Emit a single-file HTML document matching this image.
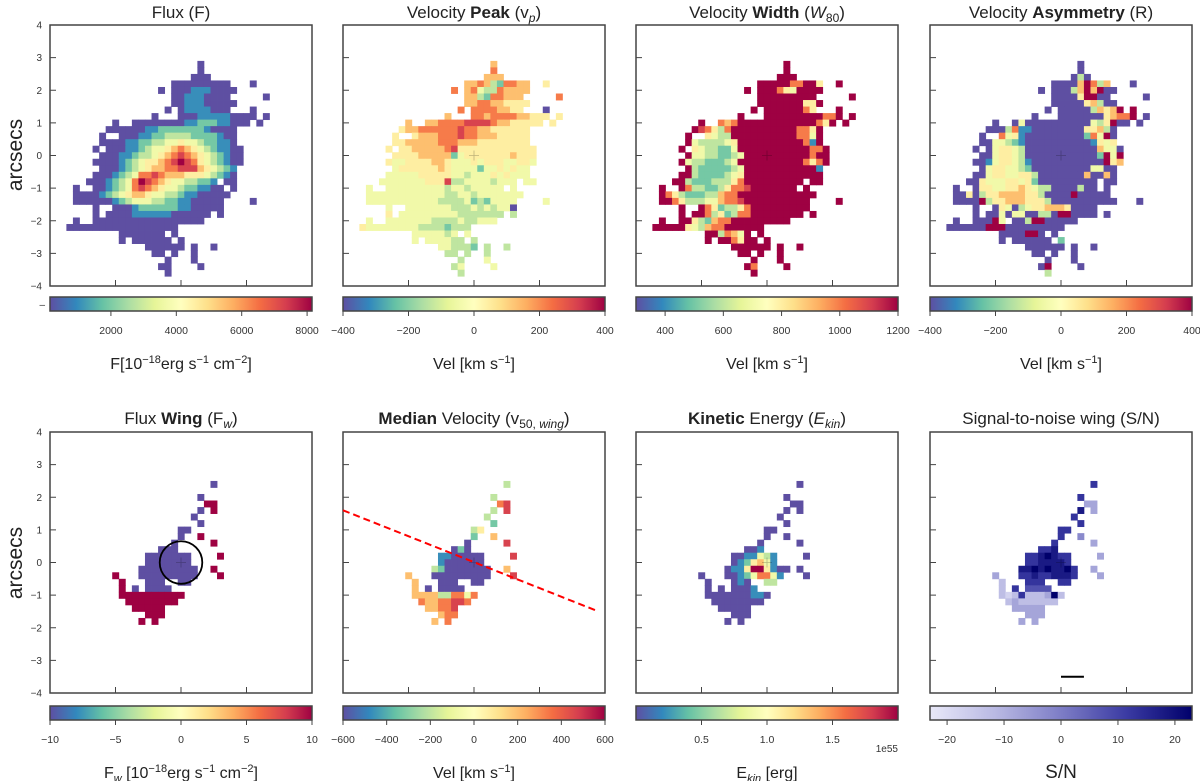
<!DOCTYPE html>
<html><head><meta charset="utf-8"><style>
html,body{margin:0;padding:0;background:#fff;}
svg{display:block;font-family:"Liberation Sans","DejaVu Sans",sans-serif;}
</style></head><body>
<svg id="fig" width="1200" height="781" viewBox="0 0 1200 781" xmlns="http://www.w3.org/2000/svg">
<defs id="defs"></defs>
<text transform="translate(22,155) rotate(-90)" text-anchor="middle" font-size="21" fill="#222">arcsecs</text>
<text transform="translate(22,563) rotate(-90)" text-anchor="middle" font-size="21" fill="#222">arcsecs</text>
<text x="181" y="18" text-anchor="middle" font-size="17" fill="#222">Flux (F)</text>
<text x="474" y="18" text-anchor="middle" font-size="17" fill="#222">Velocity <tspan font-weight="bold">Peak</tspan> (v<tspan font-style="italic" font-size="12" dy="4">p</tspan><tspan dy="-4">)</tspan></text>
<text x="767" y="18" text-anchor="middle" font-size="17" fill="#222">Velocity <tspan font-weight="bold">Width</tspan> (<tspan font-style="italic">W</tspan><tspan font-size="12" dy="4">80</tspan><tspan dy="-4">)</tspan></text>
<text x="1061" y="18" text-anchor="middle" font-size="17" fill="#222">Velocity <tspan font-weight="bold">Asymmetry</tspan> (R)</text>
<text x="181" y="424" text-anchor="middle" font-size="17" fill="#222">Flux <tspan font-weight="bold">Wing</tspan> (F<tspan font-style="italic" font-size="12" dy="4">w</tspan><tspan dy="-4">)</tspan></text>
<text x="474" y="424" text-anchor="middle" font-size="17" fill="#222"><tspan font-weight="bold">Median</tspan> Velocity (v<tspan font-size="12" dy="4">50, </tspan><tspan font-size="12" font-style="italic">wing</tspan><tspan dy="-4">)</tspan></text>
<text x="767" y="424" text-anchor="middle" font-size="17" fill="#222"><tspan font-weight="bold">Kinetic</tspan> Energy (<tspan font-style="italic">E</tspan><tspan font-style="italic" font-size="12" dy="4">kin</tspan><tspan dy="-4">)</tspan></text>
<text x="1061" y="424" text-anchor="middle" font-size="17" fill="#222">Signal-to-noise wing (S/N)</text>

<text x="181" y="369" text-anchor="middle" font-size="16" fill="#222">F[10<tspan font-size="11" dy="-6">−18</tspan><tspan dy="6">erg s</tspan><tspan font-size="11" dy="-6">−1</tspan><tspan dy="6"> cm</tspan><tspan font-size="11" dy="-6">−2</tspan><tspan dy="6">]</tspan></text>
<text x="474" y="369" text-anchor="middle" font-size="16" fill="#222">Vel [km s<tspan font-size="11" dy="-6">−1</tspan><tspan dy="6">]</tspan></text>
<text x="767" y="369" text-anchor="middle" font-size="16" fill="#222">Vel [km s<tspan font-size="11" dy="-6">−1</tspan><tspan dy="6">]</tspan></text>
<text x="1061" y="369" text-anchor="middle" font-size="16" fill="#222">Vel [km s<tspan font-size="11" dy="-6">−1</tspan><tspan dy="6">]</tspan></text>
<text x="181" y="778" text-anchor="middle" font-size="16" fill="#222">F<tspan font-style="italic" font-size="11" dy="4">w</tspan><tspan dy="-4"> [10</tspan><tspan font-size="11" dy="-6">−18</tspan><tspan dy="6">erg s</tspan><tspan font-size="11" dy="-6">−1</tspan><tspan dy="6"> cm</tspan><tspan font-size="11" dy="-6">−2</tspan><tspan dy="6">]</tspan></text>
<text x="474" y="778" text-anchor="middle" font-size="16" fill="#222">Vel [km s<tspan font-size="11" dy="-6">−1</tspan><tspan dy="6">]</tspan></text>
<text x="767" y="778" text-anchor="middle" font-size="16" fill="#222">E<tspan font-style="italic" font-size="11" dy="4">kin</tspan><tspan dy="-4"> [erg]</tspan></text>
<text x="1061" y="778" text-anchor="middle" font-size="19" fill="#222">S/N</text>
<text x="898" y="752" text-anchor="end" font-size="10" fill="#333">1e55</text>
<text x="45" y="308" text-anchor="end" font-size="10" fill="#333">–</text>
</svg>
<script>
// ---------- data ----------
var panelTitles = ["flux","velocity-peak","velocity-width","velocity-asymmetry","flux-wing","median-velocity","kinetic-energy","signal-to-noise"];
var cbarMin = [137, -400, 300, -400, -10, -600, 0, -23];
var cbarMax = [8150, 400, 1200, 400, 10, 600, 2.0, 23];
var cbarTicks = [[2000,4000,6000,8000],[-400,-200,0,200,400],[400,600,800,1000,1200],[-400,-200,0,200,400],[-10,-5,0,5,10],[-600,-400,-200,0,200,400,600],[0.5,1.0,1.5],[-20,-10,0,10,20]];
var cbarTickLabels = [["2000","4000","6000","8000"],["−400","−200","0","200","400"],["400","600","800","1000","1200"],["−400","−200","0","200","400"],["−10","−5","0","5","10"],["−600","−400","−200","0","200","400","600"],["0.5","1.0","1.5"],["−20","−10","0","10","20"]];
var yTicks = [4,3,2,1,0,-1,-2,-3,-4];
var yTickLabels = ["4","3","2","1","0","−1","−2","−3","−4"];
var xTicks = [-2,0,2];
// top maps: [y, xStart, digit string], digit d -> vmin + d/9*(vmax-vmin)
var fluxRows = [
[2.8,0.6,"0"],[2.6,0.6,"0"],[2.4,0.4,"000"],[2.2,-0.2,"000000000...0"],[2.0,-0.6,"0.0001110000"],
[1.8,-0.2,"001110000.....0"],[1.6,-0.2,"0011100000"],[1.4,-0.4,"0.01111000...0"],[1.2,-0.8,"0...000111110000.0"],
[1.0,-2.0,"0..000000001122211000.0"],[0.8,-2.2,"00000011222222210000"],[0.6,-2.4,"0..000112233332222100"],
[0.4,-2.4,"000011223344544322110"],[0.2,-2.6,"0.000112344567654321100"],[0.0,-2.4,"0001123345678765432100"],
[-0.2,-2.6,"00001234556789875432100"],[-0.4,-2.4,"000123456677888654321"],[-0.6,-2.6,"0001234778766655543210"],
[-0.8,-2.8,"00012347987654433221.00"],[-1.0,-3.2,"0..00123478765443221100.0"],[-1.2,-3.2,"000012345665443321100000"],
[-1.4,-3.2,"00000012344433221100000....0"],[-1.6,-2.6,"0..00012222221100000"],[-1.8,-2.6,"0.0000111111000000.0"],
[-2.0,-3.2,"0..00000000000000000"],[-2.2,-3.4,"00000000000000000"],[-2.4,-1.8,"0000000.0"],[-2.6,-1.8,"0.000000.0"],
[-2.8,-1.0,"000000.0..0"],[-3.0,-0.8,"00.0..0"],[-3.2,-0.4,"0...0"],[-3.4,-0.6,"00....0"],[-3.6,-0.4,"0"]];
var velPeakRows = [
[2.8,0.6,"6"],[2.6,0.6,"7"],[2.4,0.4,"666"],[2.2,-0.2,"6676327766..5"],[2.0,-0.6,"7.6743376666"],
[1.8,-0.2,"663277666.....7"],[1.6,-0.2,"6677665555"],[1.4,-0.4,"7.77776655...0"],[1.2,-0.8,"6...776777766555.5"],
[1.0,-2.0,"6..667777888876655555.5"],[0.8,-2.2,"56677777787766555555"],[0.6,-2.4,"5..566677787766655555"],
[0.4,-2.4,"556666677766655555555"],[0.2,-2.6,"5.556666678555555555555"],[0.0,-2.4,"5555666662455555556555"],
[-0.2,-2.6,"54455556654445455544554"],[-0.4,-2.4,"455555565444424454544"],[-0.6,-2.6,"4444455555443444545444"],
[-0.8,-2.8,"444444455583344443444.44"],[-1.0,-3.2,"4..444444444344344444.4"],[-1.2,-3.2,"444444444444334434444444"],
[-1.4,-3.2,"44444444444333342324444....4"],[-1.6,-2.6,"4..44444443334343440"],[-1.8,-2.6,"5.4444444443333333.3"],
[-2.0,-3.2,"4..44444443333433444"],[-2.2,-3.4,"54444444433332333"],[-2.4,-1.8,"4444434.4"],[-2.6,-1.8,"4.444433.3"],
[-2.8,-1.0,"443332.3..3"],[-3.0,-0.8,"33.3..3"],[-3.2,-0.4,"3...4"],[-3.4,-0.6,"34....4"],[-3.6,-0.4,"3"]];
var widthRows = [
[2.8,0.6,"9"],[2.6,0.6,"9"],[2.4,0.4,"999"],[2.2,-0.2,"9999977995..9"],[2.0,-0.6,"9.9997549999"],
[1.8,-0.2,"999999999.....9"],[1.6,-0.2,"9999999559"],[1.4,-0.4,"9.99999975...9"],[1.2,-0.8,"9...999999999779.9"],
[1.0,-2.0,"9..767999999999999759.9"],[0.8,-2.2,"98753799999999997759"],[0.6,-2.4,"9..543399999999997749"],
[0.4,-2.4,"943333459999999999719"],[0.2,-2.6,"9.543322499999999999779"],[0.0,-2.4,"9443322349999999999799"],
[-0.2,-2.6,"94332223499999999997579"],[-0.4,-2.4,"932222234999999999991"],[-0.6,-2.6,"9932222345999999999999"],
[-0.8,-2.8,"99322233357999999999.99"],[-1.0,-3.2,"9..973322357789999999.9"],[-1.2,-3.2,"975322233677999999999999"],
[-1.4,-3.2,"99753334467789999999999....9"],[-1.6,-2.6,"9..97523357999999999"],[-1.8,-2.6,"9.99735237799999999.9"],
[-2.0,-3.2,"9..99532677999999999"],[-2.2,-3.4,"99999543677999999"],[-2.4,-1.8,"9937649.9"],[-2.6,-1.8,"9.997599.9"],
[-2.8,-1.0,"999999.9..9"],[-3.0,-0.8,"99.9..9"],[-3.2,-0.4,"9...9"],[-3.4,-0.6,"97....9"],[-3.6,-0.4,"9"]];
var asymRows = [
[2.8,0.6,"0"],[2.6,0.6,"0"],[2.4,0.4,"030"],[2.2,-0.2,"000069736...0"],[2.0,-0.6,"0.0003696900"],
[1.8,-0.2,"000059900.....0"],[1.6,-0.2,"0000056300"],[1.4,-0.4,"0.0000036569.9"],[1.2,-0.8,"0...000000056779.0"],
[1.0,-2.0,"0..040000000000435900.0"],[0.8,-2.2,"00037110000000055630"],[0.6,-2.4,"0..745100000000027490"],
[0.4,-2.4,"004432100000000001545"],[0.2,-2.6,"0.045543000000000006440"],[0.0,-2.4,"0045543000000000002949"],
[-0.2,-2.6,"00145543100000000000956"],[-0.4,-2.4,"045544320000000004400"],[-0.6,-2.6,"0045544553000000060060"],
[-0.8,-2.8,"00544455452000000000.00"],[-1.0,-3.2,"0..0554455654330000300.0"],[-1.2,-3.2,"005035566665530000900000"],
[-1.4,-3.2,"0000935566655530000000000...0"],[-1.6,-2.6,"0..0540345566650000"],[-1.8,-2.6,"0.00404400330990000.0"],
[-2.0,-3.2,"0..00094.0039900000"],[-2.2,-3.4,"000000999000000000"],[-2.4,-1.8,"0000990.0"],[-2.6,-1.8,"0.000000.2"],
[-2.8,-1.0,"000000.0..0"],[-3.0,-0.8,"00.0..0"],[-3.2,-0.4,"0...0"],[-3.4,-0.6,"09....0"],[-3.6,-0.4,"3"]];
// bottom maps: [y, digit string] starting at x = -2.0
var wingFluxRows = [
[2.4,"...............0."],[2.0,".............0..."],[1.8,"..............99."],[1.6,".............0.9."],
[1.4,"............0...."],[1.2,".............0..."],[1.0,"..........00....."],[0.8,"..........0..9..."],
[0.6,".........0.....9."],[0.4,".......000......."],[0.2,".....0000000....9"],[0.0,".....0000000....."],
[-0.2,"....000000000..9."],[-0.4,"9...000000000...9"],[-0.6,".9...000..00....."],[-0.8,".9.0.0000........"],
[-1.0,".9999999999......"],[-1.2,"..99999999......."],[-1.4,"...99999........."],[-1.6,".....999........."],[-1.8,"....9.9.........."]];
var medVelRows = [
[2.4,"...............3."],[2.0,".............3..."],[1.8,"..............78."],[1.6,".............3.8."],
[1.4,"............3...."],[1.2,".............2..."],[1.0,"..........35....."],[0.8,"..........2..6..."],
[0.6,".........0.....8."],[0.4,".......020......."],[0.2,".....1100000....8"],[0.0,".....1000000....."],
[-0.2,"....320000000..6."],[-0.4,"6...000000000...8"],[-0.6,".6...000..00....."],[-0.8,".6.0.0000........"],
[-1.0,".6666337747......"],[-1.2,"..76677887......."],[-1.4,"...66778........."],[-1.6,".....677........."],[-1.8,"....6.7.........."]];
var ekinRows = [
[2.4,"...............0."],[2.0,".............0..."],[1.8,"..............00."],[1.6,".............0.0."],
[1.4,"............0...."],[1.2,".............0..."],[1.0,"..........00....."],[0.8,"..........0..0..."],
[0.6,".........0.....0."],[0.4,".......001......."],[0.2,".....0011431....0"],[0.0,".....0125641....."],
[-0.2,"....0115995100.0."],[-0.4,"0...001247741...0"],[-0.6,".0...010..33....."],[-0.8,".0.0.0001........"],
[-1.0,".0000000110......"],[-1.2,"..00000000......."],[-1.4,"...00000........."],[-1.6,".....000........."],[-1.8,"....0.0.........."]];
var snRows = [
[2.4,"...............7."],[2.0,".............7..."],[1.8,"..............33."],[1.6,".............8.3."],
[1.4,"............7...."],[1.2,".............7..."],[1.0,"..........77....."],[0.8,"..........7..4..."],
[0.6,".........7.....3."],[0.4,".......778......."],[0.2,".....7789877....3"],[0.0,".....7788887....."],
[-0.2,"....889898897..3."],[-0.4,"3...778778887...3"],[-0.6,".2...777..77....."],[-0.8,".2.7.6666........"],
[-1.0,".2127222392......"],[-1.2,"..23222222......."],[-1.4,"...33333........."],[-1.6,".....333........."],[-1.8,"....3.3.........."]];
var slitLineX = [-4, 3.8];
var slitLineY = [1.6, -1.5];
var apertureRadius = 0.65;
var scaleBarX = [0, 0.7];
var scaleBarY = -3.5;

// ---------- layout ----------
var NS="http://www.w3.org/2000/svg";
var svg=document.getElementById('fig');
var defs=document.getElementById('defs');
var panelX=[50,343,636,930,50,343,636,930];
var panelY=[25,25,25,25,432,432,432,432];
var PW=262, PH=261;
var cbY=[297,297,297,297,706,706,706,706], CBH=14;
var spectral=["#5e4fa2","#3288bd","#66c2a5","#abdda4","#e6f598","#ffffbf","#fee08b","#fdae61","#f46d43","#d53e4f","#9e0142"];
var purples=["#e8e8f8","#b9b9e3","#7d7dc6","#3b3ba3","#00006b"];
function hex(c){return [parseInt(c.substr(1,2),16),parseInt(c.substr(3,2),16),parseInt(c.substr(5,2),16)];}
function cmap(t,st){t=Math.max(0,Math.min(1,t));var n=st.length-1,f=t*n,i=Math.min(n-1,Math.floor(f)),u=f-i;var a=hex(st[i]),b=hex(st[i+1]);
 return "rgb("+a.map(function(v,k){return Math.round(v+(b[k]-v)*u);}).join(",")+")";}
function el(tag,attrs,parent){var e=document.createElementNS(NS,tag);for(var k in attrs)e.setAttribute(k,attrs[k]);(parent||svg).appendChild(e);return e;}
function sx(p,x){return panelX[p]+(x+4)/8*PW;}
function sy(p,y){return panelY[p]+(4-y)/8*PH;}
var maps=[fluxRows,velPeakRows,widthRows,asymRows,wingFluxRows,medVelRows,ekinRows,snRows];
var CS=0.2;
for(var p=0;p<8;p++){
  var st=(p==7)?purples:spectral;
  var g=el('g',{});
  
  
  var rows=maps[p];
  for(var r=0;r<rows.length;r++){
    var y=rows[r][0], x0, s;
    if(p<4){x0=rows[r][1]; s=rows[r][2];} else {x0=-2.0; s=rows[r][1];}
    for(var k=0;k<s.length;k++){
      var ch=s[k]; if(ch<'0'||ch>'9') continue;
      var d=+ch; var v=cbarMin[p]+d/9*(cbarMax[p]-cbarMin[p]);
      var t=(v-cbarMin[p])/(cbarMax[p]-cbarMin[p]);
      var x=x0+k*CS;
      var rc=el('rect',{x:sx(p,x-CS/2).toFixed(2),y:sy(p,y+CS/2).toFixed(2),width:(CS/8*PW+0.4).toFixed(2),height:(CS/8*PH+0.4).toFixed(2),fill:cmap(t,st)},g);
      
      
    }
  }
  // centre cross
  if(p>0){
    var cr=el('path',{d:"M"+(sx(p,0)-5)+","+sy(p,0)+"h10M"+sx(p,0)+","+(sy(p,0)-5)+"v10",stroke:"rgba(0,0,0,0.25)","stroke-width":"0.8",fill:"none"});
    
    
  }
  // frame
  var fr=el('rect',{x:panelX[p],y:panelY[p],width:PW,height:PH,fill:"none",stroke:"#444","stroke-width":"1.5"});
  
  
  var tk="";
  for(var i=1;i<yTicks.length-1;i++){ tk+="M"+panelX[p]+","+sy(p,yTicks[i])+"h6"; }
  for(var i=0;i<xTicks.length;i++){ tk+="M"+sx(p,xTicks[i])+","+(panelY[p]+PH)+"v-6"; }
  var tp=el('path',{d:tk,stroke:"#444","stroke-width":"1",fill:"none"});
  
  
  if(p==0||p==4){
    for(var i=0;i<yTicks.length;i++){
      var tl=el('text',{x:panelX[p]-8,y:sy(p,yTicks[i])+3.5,"text-anchor":"end","font-size":"10",fill:"#333"});
      tl.textContent=yTickLabels[i];
      
      
    }
  }
  // colorbar
  var gid="grad"+p;
  var lg=el('linearGradient',{id:gid,x1:"0",x2:"1",y1:"0",y2:"0"},defs);
  for(var i=0;i<=20;i++){el('stop',{offset:(i/20),"stop-color":cmap(i/20,st)},lg);}
  var cb=el('rect',{x:panelX[p],y:cbY[p],width:PW,height:CBH,fill:"url(#"+gid+")",stroke:"#444","stroke-width":"1.5"});
  
  
  var ct=cbarTicks[p];
  for(var i=0;i<ct.length;i++){
    var cx=panelX[p]+(ct[i]-cbarMin[p])/(cbarMax[p]-cbarMin[p])*PW;
    var tl2=el('path',{d:"M"+cx+","+(cbY[p]+CBH)+"v5",stroke:"#444","stroke-width":"1"});
    
    
    var tt=el('text',{x:cx,y:cbY[p]+CBH+23,"text-anchor":"middle","font-size":"10.5",fill:"#333"});
    tt.textContent=cbarTickLabels[p][i];
    
    
  }
}
// slit line (median velocity)
var ln=el('line',{x1:sx(5,slitLineX[0]),y1:sy(5,slitLineY[0]),x2:sx(5,slitLineX[1]),y2:sy(5,slitLineY[1]),stroke:"#f00","stroke-width":"2","stroke-dasharray":"7,4"});


// aperture circle (flux wing)
var ci=el('circle',{cx:sx(4,0),cy:sy(4,0),r:apertureRadius/8*PW,fill:"none",stroke:"#000","stroke-width":"1.8"});


// scale bar (S/N)
var sb=el('line',{x1:sx(7,scaleBarX[0]),y1:sy(7,scaleBarY),x2:sx(7,scaleBarX[1]),y2:sy(7,scaleBarY),stroke:"#000","stroke-width":"2"});


</script>
</body></html>
